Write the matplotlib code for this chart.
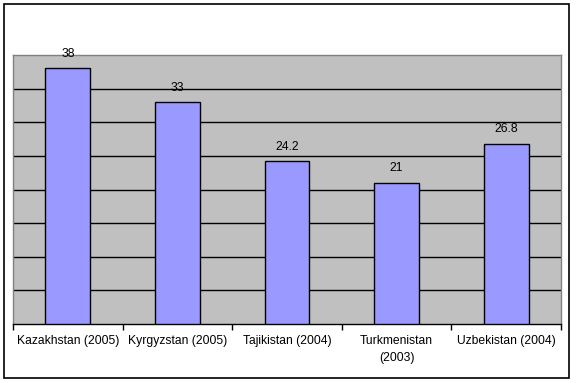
import matplotlib.pyplot as plt
from matplotlib.patches import Rectangle

# -----------------------------------
# DATA
# -----------------------------------
countries = ["Kazakhstan (2005)", "Kyrgyzstan (2005)", "Tajikistan (2004)",
             "Turkmenistan\n(2003)", "Uzbekistan (2004)"]
values = [38, 33, 24.2, 21, 26.8]
value_labels = ["38", "33", "24.2", "21", "26.8"]

plt.rcParams['font.family'] = ['Liberation Sans', 'DejaVu Sans']

fig = plt.figure(figsize=(5.76, 3.83), dpi=100)
ax = fig.add_axes([13 / 576, 59 / 383, 548 / 576, 269 / 383])

ax.set_facecolor("#C0C0C0")

x = range(len(countries))
bars = ax.bar(x, values, width=0.41, color="#9999FF",
              edgecolor="black", linewidth=1, zorder=3)

# value labels above bars
for b, lab in zip(bars, value_labels):
    ax.annotate(lab, (b.get_x() + b.get_width() / 2, b.get_height()),
                xytext=(0, 6), textcoords="offset points",
                ha="center", va="bottom", fontsize=8.7, clip_on=False)

ax.set_xlim(-0.5, len(countries) - 0.5)
ax.set_ylim(0, 40)

# gridlines
for yv in range(5, 40, 5):
    ax.axhline(yv, color="black", linewidth=1, zorder=1)

ax.set_yticks([])
ax.set_xticks(list(x))
ax.set_xticklabels(countries, fontsize=8.7, linespacing=1.5)
ax.tick_params(axis="x", length=0, pad=8)

# category separator ticks
ax.set_xticks([i - 0.5 for i in range(len(countries) + 1)], minor=True)
ax.tick_params(axis="x", which="minor", length=4, width=1, direction="out")

for side in ["left", "top", "right"]:
    ax.spines[side].set_color("#808080")
    ax.spines[side].set_linewidth(1)
ax.spines["bottom"].set_color("black")
ax.spines["bottom"].set_linewidth(1)

# outer chart border
fig.patches.append(Rectangle((4 / 576, 5 / 383), 565 / 576, 374 / 383,
                             transform=fig.transFigure, fill=False,
                             edgecolor="black", linewidth=1.2))

fig.savefig("out.png", dpi=100)
